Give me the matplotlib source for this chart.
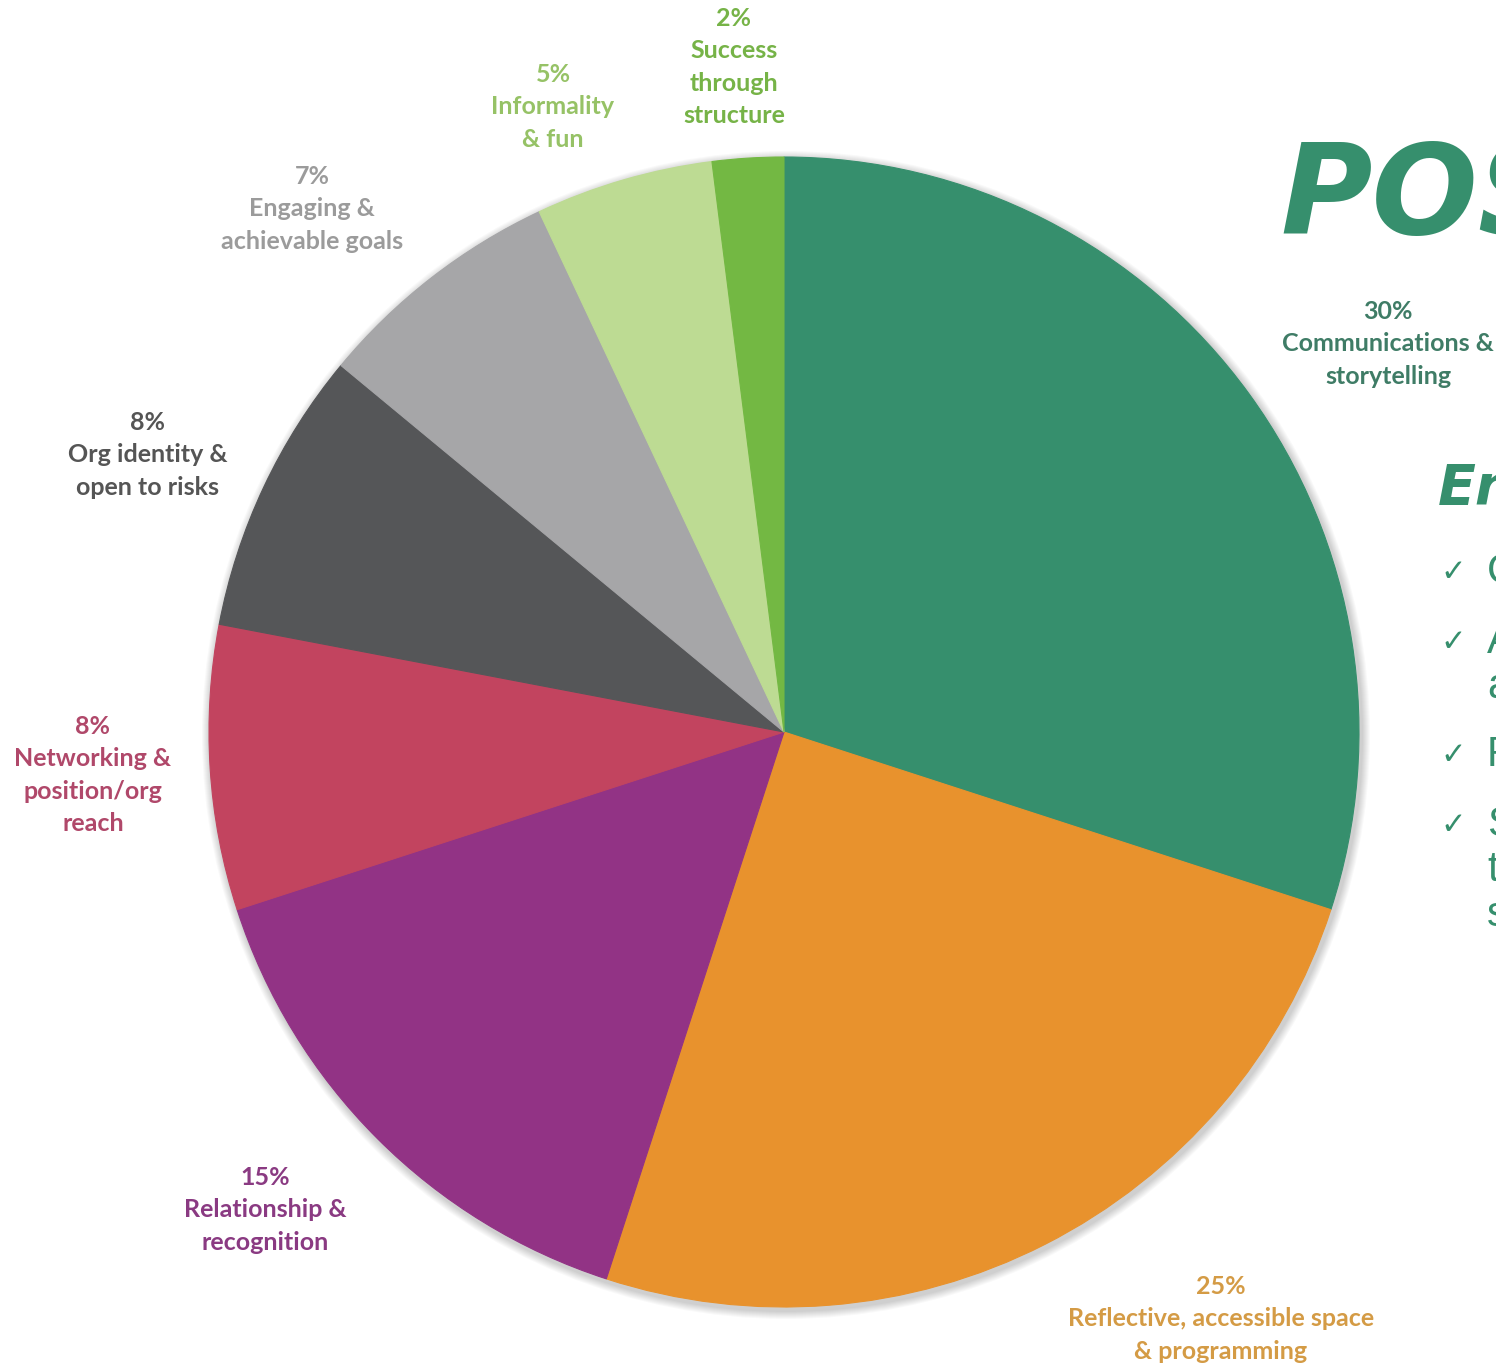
import matplotlib.pyplot as plt
from matplotlib.patches import Circle

# Share of responses per theme, clockwise from 12 o'clock
themes = [
    "Communications &\nstorytelling",
    "Reflective, accessible space\n& programming",
    "Relationship &\nrecognition",
    "Networking &\nposition/org\nreach",
    "Org identity &\nopen to risks",
    "Engaging &\nachievable goals",
    "Informality\n& fun",
    "Success\nthrough\nstructure",
]
shares = [30, 25, 15, 8, 8, 7, 5, 2]
slice_colors = ["#368f6d", "#e8922d", "#923385", "#c2445f",
                "#555658", "#a6a6a8", "#bddb93", "#73b843"]
label_colors = ["#3f7c66", "#d49b45", "#8a3a82", "#b0486a",
                "#555555", "#9b9b9b", "#96c266", "#76b347"]

W, H = 1496, 1366
fig = plt.figure(figsize=(W / 100, H / 100), dpi=100)
ax = fig.add_axes([0, 0, 1, 1])

cx, cy, r = 784, H - 732, 575

# soft shadow under the pie
for k in range(8):
    ax.add_patch(Circle((cx + 2, cy - 3), r + 9 - k, color="#000000",
                        alpha=0.025, lw=0, zorder=0))

wedges, _ = ax.pie(shares, colors=slice_colors, startangle=90,
                   counterclock=False, center=(cx, cy), radius=r, frame=True,
                   wedgeprops=dict(linewidth=0.8, zorder=2))
for w, c in zip(wedges, slice_colors):
    w.set_edgecolor(c)

ax.set_xlim(0, W)
ax.set_ylim(0, H)
ax.set_aspect("equal")
ax.axis("off")

# label anchors (top of the text block)
label_pos = [(1388, 300), (1221, 1275), (265, 1166), (93, 715),
             (148, 411), (312, 165), (553, 63), (734, 7)]

for name, pct, col, (lx, ly) in zip(themes, shares, label_colors, label_pos):
    ax.text(lx, H - ly, f"{pct}%\n{name}", ha="center", va="top",
            color=col, fontsize=18, fontweight="bold", family="Lato",
            linespacing=1.49, zorder=5)

teal = "#368f6d"
ax.text(1280, H - 234, "POS", color=teal, fontsize=90, fontweight="heavy",
        fontstyle="italic", family="DejaVu Sans", ha="left", va="baseline")
ax.text(1438, H - 504, "En", color=teal, fontsize=40, fontweight="heavy",
        fontstyle="italic", family="DejaVu Sans", ha="left", va="baseline")

bullets = [(583, ["C"]), (653, ["A", "a"]), (766, ["F"]), (836, ["S", "t", "s"])]
for by, lines in bullets:
    ax.text(1440, H - by + 2, "\u2713", color=teal, fontsize=22,
            family="DejaVu Sans", ha="left", va="baseline")
    for i, t in enumerate(lines):
        ax.text(1487, H - by - 45 * i, t, color=teal, fontsize=30,
                family="Liberation Sans", ha="left", va="baseline")

fig.savefig("out.png", dpi=100, facecolor="white")
